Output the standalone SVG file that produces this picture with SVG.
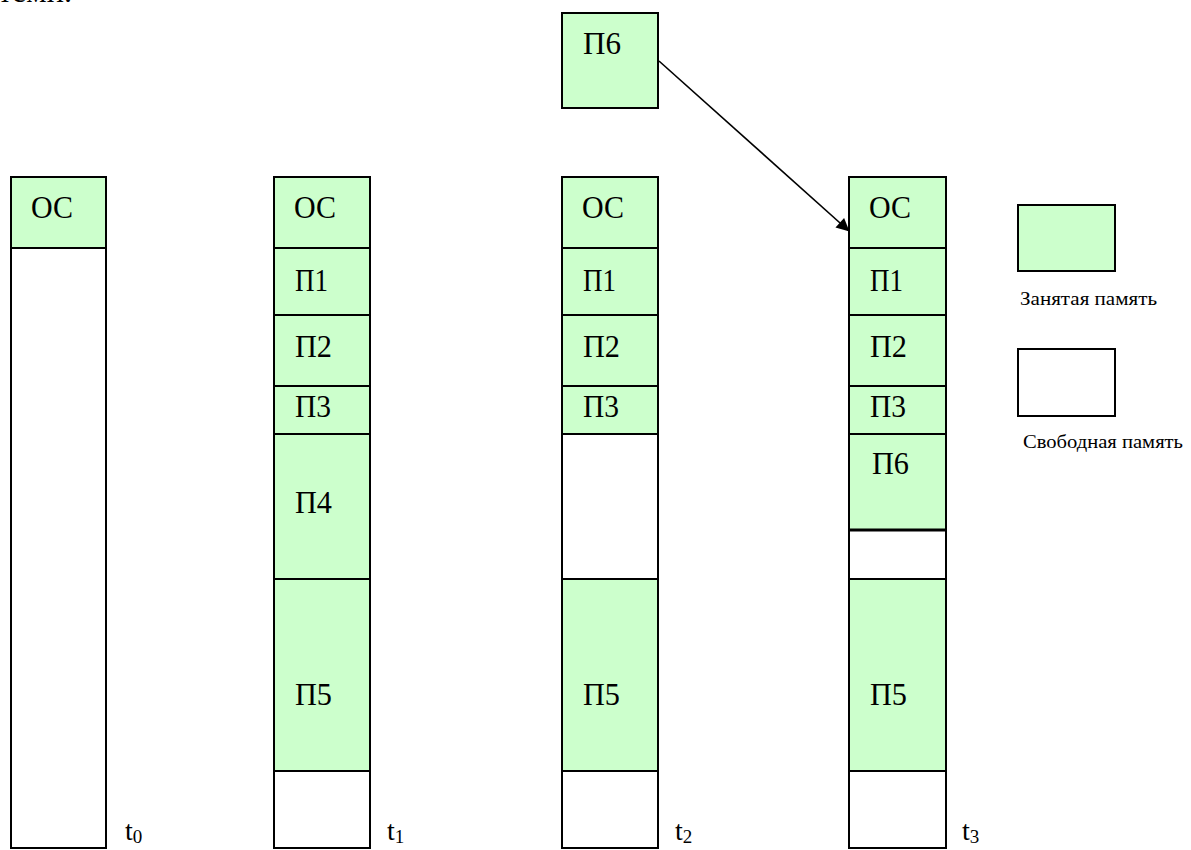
<svg xmlns="http://www.w3.org/2000/svg" width="1191" height="850" viewBox="0 0 1191 850">
  <style>
    .used { fill: #CCFFCC; stroke: #000; stroke-width: 2; }
    .free { fill: #FFFFFF; stroke: #000; stroke-width: 2; }
    .lbl { font-family: "Liberation Serif", "Times New Roman", serif; font-size: 32px; fill: #000; }
    .tl { font-family: "Liberation Serif", "Times New Roman", serif; font-size: 28px; fill: #000; }
    .leg { font-family: "Liberation Serif", "Times New Roman", serif; font-size: 19px; fill: #000; }
    .conn { stroke: #000; stroke-width: 1.6; fill: none; }
  </style>
  <defs>
    <marker id="arrow" viewBox="0 0 10 10" refX="9.5" refY="5" markerWidth="15" markerHeight="13" markerUnits="userSpaceOnUse" orient="auto">
      <path d="M0,0 L10,5 L0,10 z" fill="#000"/>
    </marker>
  </defs>
  <rect width="1191" height="850" fill="#FFFFFF"/>

  <!-- tail of the preceding paragraph -->
  <text class="lbl" x="-2" y="2" textLength="74" lengthAdjust="spacingAndGlyphs">теми.</text>

  <!-- t0: only the OS is loaded -->
  <g id="col-t0">
    <g id="t0-os"><rect class="used" x="11" y="177" width="95" height="71"/><text class="lbl" x="31" y="218" textLength="42" lengthAdjust="spacingAndGlyphs">ОС</text></g>
    <g id="t0-free"><rect class="free" x="11" y="248" width="95" height="600"/></g>
    <g id="t0-label"><text class="tl" x="125" y="840">t<tspan font-size="19" dy="3">0</tspan></text></g>
  </g>

  <!-- t1: five programs resident -->
  <g id="col-t1">
    <g id="t1-os"><rect class="used" x="274" y="177" width="96" height="71"/><text class="lbl" x="294" y="218" textLength="42" lengthAdjust="spacingAndGlyphs">ОС</text></g>
    <g id="t1-p1"><rect class="used" x="274" y="248" width="96" height="67"/><text class="lbl" x="295" y="291" textLength="33" lengthAdjust="spacingAndGlyphs">П1</text></g>
    <g id="t1-p2"><rect class="used" x="274" y="315" width="96" height="71"/><text class="lbl" x="295" y="357" textLength="37" lengthAdjust="spacingAndGlyphs">П2</text></g>
    <g id="t1-p3"><rect class="used" x="274" y="386" width="96" height="48"/><text class="lbl" x="295" y="417" textLength="36" lengthAdjust="spacingAndGlyphs">П3</text></g>
    <g id="t1-p4"><rect class="used" x="274" y="434" width="96" height="145"/><text class="lbl" x="295" y="513" textLength="37" lengthAdjust="spacingAndGlyphs">П4</text></g>
    <g id="t1-p5"><rect class="used" x="274" y="579" width="96" height="192"/><text class="lbl" x="295" y="705" textLength="37" lengthAdjust="spacingAndGlyphs">П5</text></g>
    <g id="t1-free"><rect class="free" x="274" y="771" width="96" height="77"/></g>
    <g id="t1-label"><text class="tl" x="387" y="840">t<tspan font-size="19" dy="3">1</tspan></text></g>
  </g>

  <!-- t2: П4 has finished, leaving a hole -->
  <g id="col-t2">
    <g id="t2-os"><rect class="used" x="562" y="177" width="96" height="71"/><text class="lbl" x="582" y="218" textLength="42" lengthAdjust="spacingAndGlyphs">ОС</text></g>
    <g id="t2-p1"><rect class="used" x="562" y="248" width="96" height="67"/><text class="lbl" x="583" y="291" textLength="33" lengthAdjust="spacingAndGlyphs">П1</text></g>
    <g id="t2-p2"><rect class="used" x="562" y="315" width="96" height="71"/><text class="lbl" x="583" y="357" textLength="37" lengthAdjust="spacingAndGlyphs">П2</text></g>
    <g id="t2-p3"><rect class="used" x="562" y="386" width="96" height="48"/><text class="lbl" x="583" y="417" textLength="36" lengthAdjust="spacingAndGlyphs">П3</text></g>
    <g id="t2-hole"><rect class="free" x="562" y="434" width="96" height="145"/></g>
    <g id="t2-p5"><rect class="used" x="562" y="579" width="96" height="192"/><text class="lbl" x="583" y="705" textLength="37" lengthAdjust="spacingAndGlyphs">П5</text></g>
    <g id="t2-free"><rect class="free" x="562" y="771" width="96" height="77"/></g>
    <g id="t2-label"><text class="tl" x="675" y="840">t<tspan font-size="19" dy="3">2</tspan></text></g>
  </g>

  <!-- incoming program -->
  <g id="p6-new"><rect class="used" x="562" y="13" width="96" height="95"/><text class="lbl" x="583" y="54" textLength="38" lengthAdjust="spacingAndGlyphs">П6</text></g>

  <!-- t3: П6 placed into the hole -->
  <g id="col-t3">
    <g id="t3-os"><rect class="used" x="849" y="177" width="97" height="71"/><text class="lbl" x="869" y="218" textLength="42" lengthAdjust="spacingAndGlyphs">ОС</text></g>
    <g id="t3-p1"><rect class="used" x="849" y="248" width="97" height="67"/><text class="lbl" x="870" y="291" textLength="33" lengthAdjust="spacingAndGlyphs">П1</text></g>
    <g id="t3-p2"><rect class="used" x="849" y="315" width="97" height="71"/><text class="lbl" x="870" y="357" textLength="37" lengthAdjust="spacingAndGlyphs">П2</text></g>
    <g id="t3-p3"><rect class="used" x="849" y="386" width="97" height="48"/><text class="lbl" x="870" y="417" textLength="36" lengthAdjust="spacingAndGlyphs">П3</text></g>
    <g id="t3-p6"><rect class="used" x="849" y="434" width="97" height="96"/><text class="lbl" x="872" y="474" textLength="37" lengthAdjust="spacingAndGlyphs">П6</text></g>
    <g id="t3-hole"><rect class="free" x="849" y="530" width="97" height="49"/></g>
    <g id="t3-p5"><rect class="used" x="849" y="579" width="97" height="192"/><text class="lbl" x="870" y="705" textLength="37" lengthAdjust="spacingAndGlyphs">П5</text></g>
    <g id="t3-free"><rect class="free" x="849" y="771" width="97" height="77"/></g>
    <line x1="849" y1="530" x2="946" y2="530" stroke="#000" stroke-width="3"/>
    <g id="t3-label"><text class="tl" x="962" y="840">t<tspan font-size="19" dy="3">3</tspan></text></g>
  </g>

  <!-- legend -->
  <g id="legend-used"><rect class="used" x="1018" y="205" width="97" height="66"/><text class="leg" x="1020" y="305" textLength="137" lengthAdjust="spacingAndGlyphs">Занятая память</text></g>
  <g id="legend-free"><rect class="free" x="1018" y="349" width="97" height="67"/><text class="leg" x="1023" y="448" textLength="160" lengthAdjust="spacingAndGlyphs">Свободная память</text></g>

  <!-- connectors -->
  <g id="connectors">
    <line class="conn" x1="659" y1="61" x2="849" y2="231" marker-end="url(#arrow)"/>
  </g>
</svg>
